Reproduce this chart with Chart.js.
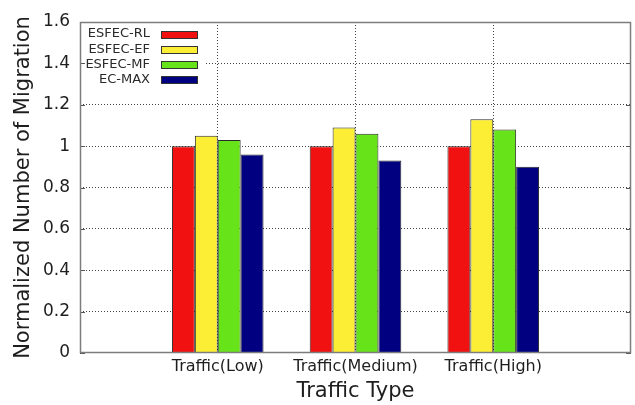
<!DOCTYPE html>
<html>
<head>
<meta charset="utf-8">
<script src="https://cdn.jsdelivr.net/npm/chart.js@4/dist/chart.umd.min.js"></script>
<style>
  html, body { margin: 0; padding: 0; background: #ffffff; }
  #wrap { width: 635px; height: 405px; }
</style>
</head>
<body>
<div id="wrap"><canvas id="c" width="635" height="405"></canvas></div>
<script>
// Categories and series values
const categories = ['Traffic(Low)', 'Traffic(Medium)', 'Traffic(High)'];
const seriesNames = ['ESFEC-RL', 'ESFEC-EF', 'ESFEC-MF', 'EC-MAX'];
const esfecRL = [1.00, 1.00, 1.00];
const esfecEF = [1.05, 1.09, 1.13];
const esfecMF = [1.03, 1.06, 1.08];
const ecMax   = [0.96, 0.93, 0.90];
const yTickLabels = ['0', '0.2', '0.4', '0.6', '0.8', '1', '1.2', '1.4', '1.6'];

const seriesColors = ['#f21111', '#fcee35', '#66e319', '#000080'];
const FONT = 'DejaVu Sans';
const GRID = '#444444';

// Empty slots at both ends leave the margins left and right of the groups
const axisLabels = ['', ...categories, ''];
const pad = arr => [null, ...arr, null];

const seriesValues = [esfecRL, esfecEF, esfecMF, ecMax];
const datasets = seriesNames.map((name, i) => ({
  label: name,
  data: pad(seriesValues[i]),
  backgroundColor: seriesColors[i],
  borderColor: '#2a2a2a',
  borderWidth: 1,
  borderSkipped: 'bottom',
  categoryPercentage: 0.665,
  barPercentage: 1.0
}));

// Legend drawn inside the plot, text right-aligned left of the swatch
const insideLegend = {
  id: 'insideLegend',
  beforeDatasetsDraw(chart) {
    const { ctx, chartArea } = chart;
    const L = chartArea.left, T = chartArea.top;
    ctx.save();
    ctx.fillStyle = '#ffffff';
    ctx.fillRect(L + 1, T + 2, 125, 64);
    ctx.font = '13px "' + FONT + '"';
    ctx.textAlign = 'right';
    ctx.textBaseline = 'middle';
    chart.data.datasets.forEach((ds, i) => {
      const cy = T + 12 + i * 15.3;
      ctx.fillStyle = '#2a2a2a';
      ctx.fillText(ds.label, L + 70, cy);
      ctx.fillStyle = ds.backgroundColor;
      ctx.fillRect(L + 81, Math.round(cy - 3.5), 36, 7);
      ctx.strokeStyle = '#333333';
      ctx.lineWidth = 1;
      ctx.strokeRect(L + 81.5, Math.round(cy - 3.5) + 0.5, 36, 7);
    });
    ctx.restore();
  }
};

// Plot frame and small inward tick marks
const frame = {
  id: 'frame',
  afterDatasetsDraw(chart) {
    const { ctx, chartArea, scales } = chart;
    const { left, top, right, bottom } = chartArea;
    ctx.save();
    ctx.strokeStyle = '#555555';
    ctx.lineWidth = 1;
    scales.y.ticks.forEach(t => {
      const y = Math.round(scales.y.getPixelForValue(t.value)) + 0.5;
      ctx.beginPath();
      ctx.moveTo(left, y); ctx.lineTo(left + 5, y);
      ctx.moveTo(right, y); ctx.lineTo(right - 5, y);
      ctx.stroke();
    });
    ctx.strokeStyle = '#7d7d7d';
    ctx.lineWidth = 1.5;
    ctx.strokeRect(left + 0.5, top + 0.5, right - left - 1, bottom - top - 1);
    ctx.restore();
  }
};

new Chart(document.getElementById('c'), {
  type: 'bar',
  data: { labels: axisLabels, datasets },
  plugins: [insideLegend, frame],
  options: {
    responsive: false,
    animation: false,
    layout: { padding: { top: 22, right: 2, left: 0, bottom: 0 } },
    plugins: {
      legend: { display: false },
      tooltip: { enabled: false }
    },
    scales: {
      x: {
        offset: false,
        border: { display: false, dash: [1, 2] },
        grid: {
          offset: false,
          drawTicks: false,
          color: c => (c.index === 0 || c.index === axisLabels.length - 1) ? 'rgba(0,0,0,0)' : GRID,
          lineWidth: 1
        },
        ticks: {
          autoSkip: false,
          maxRotation: 0,
          padding: 4,
          color: '#1e1e1e',
          font: { family: FONT, size: 16 }
        },
        title: {
          display: true,
          text: 'Traffic Type',
          color: '#1e1e1e',
          font: { family: FONT, size: 21 },
          padding: { top: 0, bottom: 1 }
        },
        afterFit: s => { s.height = 52; }
      },
      y: {
        min: 0,
        max: 1.6,
        border: { display: false, dash: [1, 2] },
        grid: {
          drawTicks: false,
          color: c => (c.index === 0 || c.index === yTickLabels.length - 1) ? 'rgba(0,0,0,0)' : GRID,
          lineWidth: 1
        },
        ticks: {
          stepSize: 0.2,
          padding: 10,
          color: '#1e1e1e',
          font: { family: FONT, size: 17 },
          callback: v => yTickLabels[Math.round(v / 0.2)]
        },
        title: {
          display: true,
          text: 'Normalized Number of Migration',
          color: '#1e1e1e',
          font: { family: FONT, size: 21 },
          padding: { top: 11, bottom: 0 }
        },
        afterFit: s => { s.width = 80; }
      }
    }
  }
});
</script>
</body>
</html>
